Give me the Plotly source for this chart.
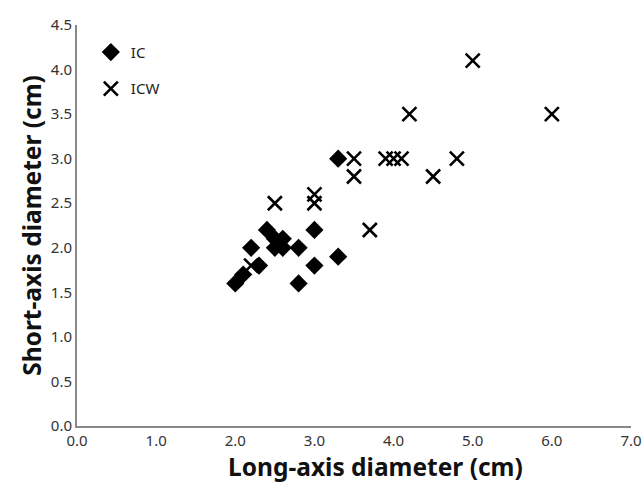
import plotly.graph_objects as go

ic_x = [2.0, 2.1, 2.2, 2.3, 2.4, 2.5, 2.6, 2.5, 2.6, 2.8, 2.8, 3.0, 3.0, 3.3, 3.3]
ic_y = [1.6, 1.7, 2.0, 1.8, 2.2, 2.1, 2.1, 2.0, 2.0, 2.0, 1.6, 2.2, 1.8, 1.9, 3.0]

icw_x = [2.2, 2.5, 3.0, 3.0, 3.5, 3.5, 3.7, 3.9, 4.0, 4.1, 4.2, 4.5, 4.8, 5.0, 6.0]
icw_y = [1.8, 2.5, 2.6, 2.5, 3.0, 2.8, 2.2, 3.0, 3.0, 3.0, 3.5, 2.8, 3.0, 4.1, 3.5]

x_ticks = [0, 1, 2, 3, 4, 5, 6, 7]
x_tick_labels = ["0.0", "1.0", "2.0", "3.0", "4.0", "5.0", "6.0", "7.0"]
y_ticks = [0, 0.5, 1, 1.5, 2, 2.5, 3, 3.5, 4, 4.5]
y_tick_labels = ["0.0", "0.5", "1.0", "1.5", "2.0", "2.5", "3.0", "3.5", "4.0", "4.5"]

x_title = "Long-axis diameter (cm)"
y_title = "Short-axis diameter (cm)"

fig = go.Figure()
fig.add_trace(go.Scatter(
    x=ic_x, y=ic_y, mode="markers", name="IC", legendgroup="a",
    marker=dict(symbol="diamond", size=14, color="black"),
))
fig.add_trace(go.Scatter(
    x=icw_x, y=icw_y, mode="markers", name="ICW", legendgroup="b",
    marker=dict(symbol="x-thin", size=14, color="black",
                line=dict(color="black", width=2.6)),
))

title_font = dict(size=24.5, color="#111", family="Noto Sans, sans-serif", weight="bold")

fig.update_layout(
    width=644, height=486,
    margin=dict(l=77, r=13, t=25, b=60, autoexpand=False),
    paper_bgcolor="white", plot_bgcolor="white",
    font=dict(family="Noto Sans, Open Sans, sans-serif", color="#333"),
    legend=dict(
        x=0.025, y=0.973, xanchor="left", yanchor="top",
        font=dict(size=15, color="#222"),
        tracegroupgap=14, itemwidth=30,
        bgcolor="rgba(0,0,0,0)",
    ),
    xaxis=dict(
        range=[0, 7], tickvals=x_ticks, ticktext=x_tick_labels,
        showgrid=False, zeroline=False, showline=True,
        linecolor="#888", linewidth=2, ticks="",
        automargin=False, ticklabeloverflow="allow",
        tickfont=dict(size=15, color="#333"),
    ),
    yaxis=dict(
        range=[0, 4.5], tickvals=y_ticks, ticktext=y_tick_labels,
        showgrid=False, zeroline=False, showline=True,
        linecolor="#888", linewidth=2, ticks="",
        automargin=False, ticklabeloverflow="allow",
        tickfont=dict(size=15, color="#333"),
        title=dict(text=y_title, font=title_font, standoff=2),
    ),
    annotations=[dict(
        text=x_title, font=title_font, showarrow=False,
        xref="paper", yref="paper", x=0.538, y=-0.102,
        xanchor="center", yanchor="middle",
    )],
)

fig.write_html("out.html", post_script="document.body.style.margin='0';",
               config={"displayModeBar": False})
